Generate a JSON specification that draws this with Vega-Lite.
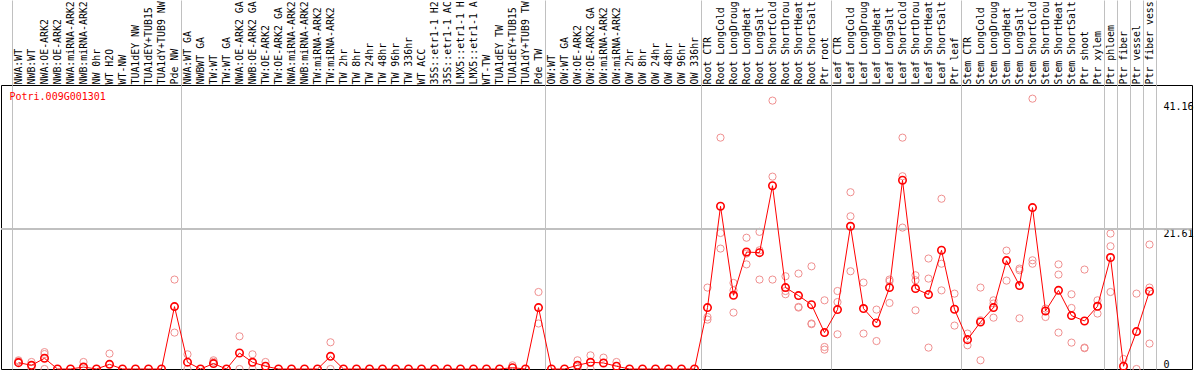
{
  "$schema": "https://vega.github.io/schema/vega-lite/v6.json",
  "width": 1191,
  "height": 284,
  "autosize": {"type": "none"},
  "padding": {"left": 1, "top": 85, "right": 2, "bottom": 1},
  "background": "white",
  "config": {"view": {"stroke": "black", "strokeWidth": 1}, "font": "DejaVu Sans Mono"},
  "data": {"values": [
    {"label": "NWA:WT", "mean": 0.98, "r1": 1.34, "r2": 1.2},
    {"label": "NWB:WT", "mean": 0.57, "r1": 1.08, "r2": 0.1},
    {"label": "NWA:OE-ARK2", "mean": 1.65, "r1": 2.6, "r2": 2.3, "r3": 0},
    {"label": "NWB:OE-ARK2", "mean": 0},
    {"label": "NWA:miRNA-ARK2", "mean": 0},
    {"label": "NWB:miRNA-ARK2", "mean": 0.3, "r1": 1.08},
    {"label": "NW 0hr", "mean": 0},
    {"label": "WT H2O", "mean": 0.72, "r1": 2.37},
    {"label": "WT-NW", "mean": 0},
    {"label": "TUA1dEY NW", "mean": 0},
    {"label": "TUA1dEY+TUB15 NW", "mean": 0},
    {"label": "TUA1dY+TUB9 NW", "mean": 0},
    {"label": "Pde NW", "mean": 9.6, "r1": 13.76, "r2": 5.6},
    {"label": "NWA:WT GA", "mean": 1.05, "r1": 2.26, "r2": 0},
    {"label": "NWBWT GA", "mean": 0},
    {"label": "TW:WT", "mean": 0.83, "r1": 1.34, "r2": 1.1},
    {"label": "TW:WT GA", "mean": 0},
    {"label": "NWA:OE-ARK2 GA", "mean": 2.46, "r1": 5.03, "r2": 0},
    {"label": "NWB:OE-ARK2 GA", "mean": 1.03, "r1": 2.26, "r2": 0},
    {"label": "TW:OE-ARK2", "mean": 0.42, "r1": 1.08},
    {"label": "TW:OE-ARK2 GA", "mean": 0},
    {"label": "NWA:miRNA-ARK2 GA", "mean": 0},
    {"label": "NWB:miRNA-ARK2 GA", "mean": 0},
    {"label": "TW:miRNA-ARK2", "mean": 0},
    {"label": "TW:miRNA-ARK2 GA", "mean": 1.95, "r1": 4.11, "r2": 0},
    {"label": "TW 2hr", "mean": 0},
    {"label": "TW 8hr", "mean": 0},
    {"label": "TW 24hr", "mean": 0},
    {"label": "TW 48hr", "mean": 0},
    {"label": "TW 96hr", "mean": 0},
    {"label": "TW 336hr", "mean": 0},
    {"label": "WT ACC", "mean": 0},
    {"label": "35S::etr1-1 H2O", "mean": 0},
    {"label": "35S::etr1-1 ACC", "mean": 0},
    {"label": "LMX5::etr1-1 H2O", "mean": 0},
    {"label": "LMX5::etr1-1 ACC", "mean": 0},
    {"label": "WT-TW", "mean": 0},
    {"label": "TUA1dEY TW", "mean": 0},
    {"label": "TUA1dEY+TUB15 TW", "mean": 0.2, "r1": 0.57},
    {"label": "TUA1dY+TUB9 TW", "mean": 0},
    {"label": "Pde TW", "mean": 9.45, "r1": 11.85, "r2": 7.0},
    {"label": "OW:WT", "mean": 0},
    {"label": "OW:WT GA", "mean": 0},
    {"label": "OW:OE-ARK2", "mean": 0.57, "r1": 1.34, "r2": 0},
    {"label": "OW:OE-ARK2 GA", "mean": 1.03, "r1": 2.1, "r2": 0},
    {"label": "OW:miRNA-ARK2", "mean": 0.93, "r1": 1.75},
    {"label": "OW:miRNA-ARK2 GA", "mean": 0.42, "r1": 1.08},
    {"label": "OW 2hr", "mean": 0},
    {"label": "OW 8hr", "mean": 0},
    {"label": "OW 24hr", "mean": 0},
    {"label": "OW 48hr", "mean": 0},
    {"label": "OW 96hr", "mean": 0},
    {"label": "OW 336hr", "mean": 0},
    {"label": "Root CTR", "mean": 9.45, "r1": 12.53, "r2": 8.0, "r3": 7.6},
    {"label": "Root LongCold", "mean": 25.04, "r1": 35.6, "r2": 20.93, "r3": 18.53},
    {"label": "Root LongDrought", "mean": 11.34, "r1": 13.24, "r2": 12.1, "r3": 8.68},
    {"label": "Root LongHeat", "mean": 18.0, "r1": 20.2, "r2": 17.76, "r3": 16.1},
    {"label": "Root LongSalt", "mean": 17.9, "r1": 21.1, "r2": 18.27, "r3": 13.76},
    {"label": "Root ShortCold", "mean": 28.2, "r1": 41.3, "r2": 29.6, "r3": 13.76},
    {"label": "Root ShortDrought", "mean": 12.53, "r1": 14.27, "r2": 12.0, "r3": 11.5},
    {"label": "Root ShortHeat", "mean": 11.3, "r1": 14.68, "r2": 9.55, "r3": 9.45},
    {"label": "Root ShortSalt", "mean": 9.9, "r1": 15.8, "r2": 7.0, "r3": 6.9},
    {"label": "Ptr root", "mean": 5.6, "r1": 10.57, "r2": 3.39, "r3": 2.98},
    {"label": "Leaf CTR", "mean": 9.14, "r1": 12.0, "r2": 10.3, "r3": 5.34},
    {"label": "Leaf LongCold", "mean": 21.96, "r1": 27.2, "r2": 23.5, "r3": 15.04},
    {"label": "Leaf LongDrought", "mean": 9.3, "r1": 13.3, "r2": 5.45},
    {"label": "Leaf LongHeat", "mean": 7.08, "r1": 9.14, "r2": 4.3},
    {"label": "Leaf LongSalt", "mean": 12.53, "r1": 13.76, "r2": 13.5, "r3": 10.16},
    {"label": "Leaf ShortCold", "mean": 29.04, "r1": 35.6, "r2": 29.66, "r3": 21.76},
    {"label": "Leaf ShortDrought", "mean": 12.37, "r1": 14.42, "r2": 13.65, "r3": 9.03},
    {"label": "Leaf ShortHeat", "mean": 11.45, "r1": 17.0, "r2": 13.91, "r3": 3.29},
    {"label": "Leaf ShortSalt", "mean": 18.27, "r1": 26.2, "r2": 16.2, "r3": 12.1},
    {"label": "Ptr leaf", "mean": 9.19, "r1": 11.6, "r2": 6.68},
    {"label": "Stem CTR", "mean": 4.52, "r1": 5.45, "r2": 3.65},
    {"label": "Stem LongCold", "mean": 7.23, "r1": 12.53, "r2": 1.34, "r3": 7.5},
    {"label": "Stem LongDrought", "mean": 9.45, "r1": 10.57, "r2": 10.07, "r3": 7.9},
    {"label": "Stem LongHeat", "mean": 16.68, "r1": 18.22, "r2": 13.6},
    {"label": "Stem LongSalt", "mean": 12.84, "r1": 15.45, "r2": 15.2, "r3": 7.8},
    {"label": "Stem ShortCold", "mean": 24.84, "r1": 41.6, "r2": 16.73, "r3": 16.2},
    {"label": "Stem ShortDrought", "mean": 8.93, "r1": 9.3, "r2": 8.0},
    {"label": "Stem ShortHeat", "mean": 12.1, "r1": 16.1, "r2": 14.53, "r3": 5.6},
    {"label": "Stem ShortSalt", "mean": 8.22, "r1": 11.5, "r2": 9.39, "r3": 4.06},
    {"label": "Ptr shoot", "mean": 7.39, "r1": 15.3, "r2": 3.29, "r3": 3.2},
    {"label": "Ptr xylem", "mean": 9.65, "r1": 10.57, "r2": 8.53},
    {"label": "Ptr phloem", "mean": 17.15, "r1": 20.84, "r2": 18.89, "r3": 11.85},
    {"label": "Ptr fiber", "mean": 0.42, "r1": 1.54},
    {"label": "Ptr vessel", "mean": 5.76, "r1": 11.6, "r2": 0},
    {"label": "Ptr fiber vessel", "mean": 11.96, "r1": 19.15, "r2": 12.53, "r3": 3.91}
  ]},
  "layer": [
    {
      "transform": [
        {"fold": ["r1", "r2", "r3"], "as": ["rep", "val"]},
        {"filter": "isValid(datum.val)"}
      ],
      "mark": {"type": "point", "filled": false, "color": "#f09090", "size": 52, "strokeWidth": 1, "opacity": 1},
      "encoding": {
        "x": {
          "field": "label", "type": "nominal", "sort": null,
          "scale": {
            "type": "band", "paddingInner": 0, "paddingOuter": 0, "range": [11, 1155],
            "domain": ["NWA:WT", "NWB:WT", "NWA:OE-ARK2", "NWB:OE-ARK2", "NWA:miRNA-ARK2", "NWB:miRNA-ARK2", "NW 0hr", "WT H2O", "WT-NW", "TUA1dEY NW", "TUA1dEY+TUB15 NW", "TUA1dY+TUB9 NW", "Pde NW", "NWA:WT GA", "NWBWT GA", "TW:WT", "TW:WT GA", "NWA:OE-ARK2 GA", "NWB:OE-ARK2 GA", "TW:OE-ARK2", "TW:OE-ARK2 GA", "NWA:miRNA-ARK2 GA", "NWB:miRNA-ARK2 GA", "TW:miRNA-ARK2", "TW:miRNA-ARK2 GA", "TW 2hr", "TW 8hr", "TW 24hr", "TW 48hr", "TW 96hr", "TW 336hr", "WT ACC", "35S::etr1-1 H2O", "35S::etr1-1 ACC", "LMX5::etr1-1 H2O", "LMX5::etr1-1 ACC", "WT-TW", "TUA1dEY TW", "TUA1dEY+TUB15 TW", "TUA1dY+TUB9 TW", "Pde TW", "OW:WT", "OW:WT GA", "OW:OE-ARK2", "OW:OE-ARK2 GA", "OW:miRNA-ARK2", "OW:miRNA-ARK2 GA", "OW 2hr", "OW 8hr", "OW 24hr", "OW 48hr", "OW 96hr", "OW 336hr", "Root CTR", "Root LongCold", "Root LongDrought", "Root LongHeat", "Root LongSalt", "Root ShortCold", "Root ShortDrought", "Root ShortHeat", "Root ShortSalt", "Ptr root", "Leaf CTR", "Leaf LongCold", "Leaf LongDrought", "Leaf LongHeat", "Leaf LongSalt", "Leaf ShortCold", "Leaf ShortDrought", "Leaf ShortHeat", "Leaf ShortSalt", "Ptr leaf", "Stem CTR", "Stem LongCold", "Stem LongDrought", "Stem LongHeat", "Stem LongSalt", "Stem ShortCold", "Stem ShortDrought", "Stem ShortHeat", "Stem ShortSalt", "Ptr shoot", "Ptr xylem", "Ptr phloem", "Ptr fiber", "Ptr vessel", "Ptr fiber vessel"]
          },
          "axis": {
            "orient": "top", "title": null, "domain": false,
            "labelExpr": "substring(datum.label, 0, 14)",
            "labelAngle": 270, "labelAlign": "left", "labelBaseline": "middle",
            "labelFont": "DejaVu Sans Mono", "labelFontSize": 9.9, "labelColor": "black",
            "labelPadding": -84, "labelLimit": 0, "labelOverlap": false, "labelBound": false,
            "tickBand": "extent", "tickSize": 85, "tickWidth": 1,
            "tickColor": {"condition": {"test": "datum.extra || indexof(['Pde NW','Pde TW','OW 336hr','Ptr root','Ptr leaf','Ptr xylem','Ptr phloem','Ptr fiber','Ptr vessel','Ptr fiber vessel'], datum.value) >= 0", "value": "#c0c0c0"}, "value": "transparent"},
            "grid": true, "gridWidth": 1,
            "gridColor": {"condition": {"test": "datum.extra || indexof(['Pde NW','Pde TW','OW 336hr','Ptr root','Ptr leaf','Ptr xylem','Ptr phloem','Ptr fiber','Ptr vessel','Ptr fiber vessel'], datum.value) >= 0", "value": "#c0c0c0"}, "value": "transparent"}
          }
        },
        "y": {
          "field": "val", "type": "quantitative",
          "scale": {"domain": [0, 43.7], "nice": false, "zero": true},
          "axis": {
            "orient": "right", "title": null, "values": [0, 21.61, 41.16], "format": ".2~f",
            "domain": false, "ticks": false, "tickSize": 0, "labelPadding": -29,
            "labelAlign": "left",
            "labelBaseline": {"condition": {"test": "datum.value === 0", "value": "bottom"}, "value": "top"},
            "labelFont": "DejaVu Sans Mono", "labelFontSize": 10, "labelColor": "black",
            "labelFlush": false, "labelOverlap": false,
            "grid": false
          }
        }
      }
    },
    {
      "mark": {"type": "rule", "color": "#c0c0c0", "strokeWidth": 1},
      "encoding": {
        "y": {"datum": 21.61, "type": "quantitative"}
      }
    },
    {
      "mark": {"type": "line", "color": "#ff0000", "strokeWidth": 1},
      "encoding": {
        "x": {"field": "label", "type": "nominal", "sort": null},
        "y": {"field": "mean", "type": "quantitative"}
      }
    },
    {
      "mark": {"type": "point", "filled": false, "color": "#ff0000", "size": 55, "strokeWidth": 1.6, "opacity": 1},
      "encoding": {
        "x": {"field": "label", "type": "nominal", "sort": null},
        "y": {"field": "mean", "type": "quantitative"}
      }
    },
    {
      "data": {"values": [{"gene": "Potri.009G001301"}]},
      "mark": {"type": "text", "color": "#ff0000", "font": "DejaVu Sans Mono", "fontSize": 10, "align": "left", "baseline": "middle", "dx": -9},
      "encoding": {
        "x": {"datum": "NWA:WT", "type": "nominal"},
        "y": {"datum": 41.9, "type": "quantitative"},
        "text": {"field": "gene"}
      }
    }
  ]
}
